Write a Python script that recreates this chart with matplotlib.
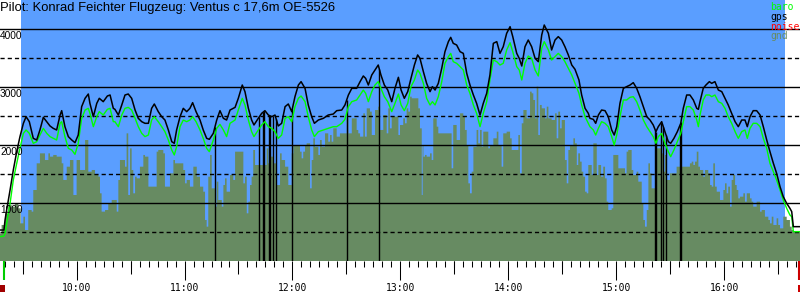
import numpy as np
import matplotlib.pyplot as plt
from matplotlib.patches import Rectangle

plt.rcParams['lines.scale_dashes'] = False

# time axis: minutes after 09:00
t_min = [
    17.4, 19.6, 20.2, 21.1, 23.0, 24.8, 26.7, 28.5, 30.4, 31.9,
    33.7, 35.9, 37.8, 39.6, 41.5, 43.4, 45.2, 47.0, 48.9, 50.8,
    51.7, 53.5, 55.4, 57.3, 59.1, 60.9, 62.8, 64.7, 66.5, 67.4,
    69.3, 71.2, 72.6, 74.8, 77.1, 78.6, 80.4, 81.3, 83.2, 85.1,
    86.9, 88.7, 90.6, 92.5, 94.3, 96.2, 98.0, 99.9, 101.7, 103.2,
    105.4, 107.3, 109.1, 111.0, 112.9, 114.3, 115.6, 117.5, 119.3, 121.2,
    123.0, 124.5, 126.4, 128.6, 130.4, 132.3, 133.8, 136.0, 137.9, 139.7,
    141.6, 143.4, 145.3, 148.1, 149.9, 152.1, 153.6, 155.5, 157.3, 158.6,
    161.0, 162.9, 164.7, 166.6, 168.5, 170.3, 172.1, 174.0, 175.9, 177.7,
    179.6, 181.4, 183.3, 184.8, 187.0, 188.8, 190.7, 192.2, 194.4, 197.2,
    199.9, 202.7, 204.6, 207.4, 209.2, 211.1, 213.0, 215.7, 217.6, 219.4,
    220.7, 222.2, 224.1, 225.9, 227.7, 229.2, 231.1, 233.0, 235.2, 237.0,
    238.9, 240.4, 242.2, 244.1, 245.9, 247.8, 249.6, 250.9, 252.8, 254.6,
    256.5, 257.8, 259.3, 261.1, 263.0, 264.8, 266.7, 268.0, 269.4, 271.3,
    273.2, 275.0, 276.9, 278.7, 280.6, 282.4, 284.3, 286.1, 288.0, 289.8,
    291.7, 293.6, 295.4, 297.2, 299.1, 301.0, 302.5, 304.7, 306.1, 307.5,
    309.3, 311.1, 313.0, 314.9, 316.7, 318.6, 320.0, 322.3, 324.1, 326.0,
    327.8, 329.7, 331.5, 333.4, 335.3, 337.1, 339.3, 340.8, 342.7, 344.5,
    345.4, 347.3, 348.6, 350.1, 351.9, 353.8, 355.6, 357.5, 358.9, 360.3,
    362.1, 364.0, 365.8, 367.7, 369.5, 371.4, 373.2, 375.1, 377.0, 378.8,
    380.6, 382.1, 383.4, 385.3, 387.1, 389.0, 390.3, 392.1, 394.0, 395.9,
    397.3, 399.2, 401.0, 402.9, 404.8, 405.7, 406.6, 408.4, 409.9, 411.8,
    413.1, 414.9, 416.8, 418.7, 420.5, 422.3, 424.2, 426.1, 427.9, 429.8,
    431.6, 432.9, 434.4, 436.2, 438.1, 440.0, 441.8, 443.7, 445.5, 447.4,
    449.2, 451.1, 452.9, 454.8, 456.6, 457.6, 458.5, 462.2,
]
gps_alt = [
    534, 534, 707, 879, 1224, 1569, 1885, 2144, 2374, 2488,
    2402, 2115, 2086, 2259, 2477, 2402, 2328, 2287, 2259, 2517,
    2592, 2316, 2144, 2086, 2040, 2172, 2661, 2805, 2879, 2718,
    2488, 2718, 2805, 2747, 2845, 2862, 2632, 2615, 2517, 2690,
    2862, 2879, 2805, 2603, 2460, 2402, 2374, 2374, 2632, 2707,
    2575, 2488, 2431, 2259, 2057, 2029, 2259, 2488, 2632, 2575,
    2632, 2730, 2575, 2431, 2259, 2115, 2098, 2201, 2431, 2592,
    2460, 2431, 2603, 2649, 2805, 3034, 2920, 2632, 2431, 2345,
    2460, 2546, 2592, 2517, 2488, 2517, 2328, 2374, 2661, 2707,
    2575, 2833, 3034, 3092, 2977, 2690, 2488, 2374, 2431, 2460,
    2517, 2534, 2592, 2603, 2690, 2862, 2977, 2977, 3092, 3190,
    3149, 3034, 3207, 3293, 3379, 3207, 3034, 2948, 2747, 2977,
    3167, 2948, 2805, 2920, 3149, 3379, 3552, 3494, 3264, 3063,
    2920, 3006, 2948, 3063, 3322, 3609, 3782, 3856, 3753, 3724,
    3609, 3580, 3236, 3034, 2862, 2718, 2517, 2718, 2891, 3207,
    3753, 3782, 3580, 3695, 3925, 4040, 3868, 3580, 3494, 3362,
    3695, 3810, 3695, 3494, 3437, 3897, 4069, 3925, 3638, 3810,
    3868, 3810, 3695, 3552, 3379, 3305, 3121, 2862, 2632, 2546,
    2460, 2442, 2374, 2517, 2603, 2592, 2488, 2259, 2172, 2316,
    2718, 2977, 3006, 3034, 3075, 2977, 2833, 2661, 2488, 2431,
    2345, 2230, 2316, 2402, 2230, 2057, 2029, 2115, 2230, 2374,
    2632, 2862, 2862, 2776, 2632, 2615, 2747, 2977, 3034, 3092,
    3063, 3092, 2948, 2920, 2805, 2690, 2546, 2402, 2316, 2431,
    2431, 2316, 2488, 2592, 2592, 2517, 2316, 2086, 1885, 1684,
    1511, 1282, 1109, 994, 908, 851, 592, 592,
]
baro_alt = [
    420, 430, 477, 649, 994, 1397, 1684, 1942, 2201, 2259,
    2201, 2029, 2057, 2172, 2287, 2201, 2144, 2115, 2086, 2374,
    2402, 2144, 1942, 1914, 1839, 2029, 2460, 2603, 2632, 2546,
    2316, 2488, 2575, 2517, 2615, 2632, 2402, 2402, 2316, 2517,
    2632, 2649, 2603, 2460, 2316, 2201, 2144, 2172, 2431, 2488,
    2402, 2316, 2230, 2086, 1914, 1828, 1971, 2316, 2431, 2402,
    2431, 2488, 2402, 2259, 2115, 1942, 1885, 2086, 2287, 2356,
    2259, 2144, 2374, 2431, 2603, 2805, 2690, 2431, 2230, 2144,
    2259, 2345, 2402, 2316, 2287, 2230, 2115, 2172, 2460, 2488,
    2402, 2661, 2805, 2845, 2747, 2488, 2259, 2144, 2230, 2259,
    2287, 2316, 2316, 2374, 2442, 2661, 2747, 2776, 2862, 2948,
    2891, 2747, 2920, 3034, 3092, 2977, 2833, 2747, 2575, 2718,
    2879, 2690, 2592, 2718, 3006, 3121, 3293, 3236, 3063, 2805,
    2690, 2747, 2690, 2833, 3092, 3408, 3523, 3580, 3437, 3408,
    3351, 3293, 3034, 2891, 2690, 2546, 2316, 2546, 2747, 3120,
    3465, 3437, 3379, 3408, 3638, 3764, 3609, 3351, 3293, 3121,
    3408, 3534, 3494, 3293, 3190, 3667, 3782, 3638, 3465, 3523,
    3580, 3523, 3437, 3322, 3207, 3063, 2891, 2690, 2488, 2374,
    2316, 2259, 2172, 2287, 2402, 2374, 2316, 2144, 2000, 2172,
    2488, 2776, 2776, 2822, 2833, 2747, 2603, 2431, 2316, 2230,
    2144, 2029, 2144, 2201, 2029, 1885, 1799, 1914, 2057, 2201,
    2402, 2661, 2661, 2603, 2431, 2316, 2517, 2776, 2862, 2862,
    2833, 2862, 2747, 2718, 2632, 2488, 2374, 2230, 2115, 2230,
    2259, 2115, 2287, 2374, 2374, 2316, 2115, 1942, 1684, 1540,
    1397, 1224, 1052, 908, 793, 764, 506, 506,
]

# ground elevation under the track, step values starting at gnd_t
gnd_t = [
    17.4, 18.3, 20.2, 22.0, 23.9, 25.7, 27.6, 28.9, 30.4, 31.3,
    33.1, 35.0, 35.9, 37.8, 39.6, 42.4, 44.3, 45.2, 47.0, 48.9,
    51.7, 52.6, 54.5, 56.3, 58.2, 60.0, 61.9, 64.7, 66.5, 68.4,
    70.2, 72.1, 73.0, 73.9, 75.8, 77.6, 79.5, 82.3, 83.2, 84.1,
    86.9, 87.8, 88.7, 89.7, 90.6, 91.5, 92.5, 93.4, 95.2, 97.1,
    98.0, 99.9, 104.5, 105.4, 108.2, 109.1, 111.9, 113.8, 114.7, 119.3,
    120.3, 121.2, 123.0, 124.9, 126.8, 128.6, 130.4, 131.4, 132.3, 133.2,
    134.2, 135.1, 136.9, 137.9, 138.8, 140.7, 141.6, 142.5, 143.4, 145.3,
    147.1, 148.1, 152.7, 153.6, 154.6, 155.5, 156.4, 157.3, 158.2, 159.2,
    165.7, 166.6, 167.5, 169.4, 171.2, 173.1, 174.0, 175.9, 177.7, 179.6,
    180.5, 184.2, 185.1, 186.0, 187.0, 187.9, 189.8, 190.7, 191.6, 192.5,
    194.4, 195.3, 196.3, 198.1, 199.9, 200.9, 201.8, 202.7, 204.6, 206.4,
    210.2, 211.1, 213.0, 215.7, 216.6, 217.6, 219.4, 220.3, 221.3, 223.1,
    224.1, 225.9, 227.7, 228.7, 230.5, 232.4, 233.3, 234.2, 235.2, 238.9,
    239.8, 241.6, 242.6, 243.5, 244.4, 245.4, 246.3, 250.0, 250.9, 251.9,
    252.4, 252.8, 253.7, 254.6, 256.5, 257.4, 258.3, 260.2, 261.1, 268.5,
    269.4, 271.3, 273.2, 275.0, 275.9, 276.9, 277.8, 278.7, 279.7, 280.6,
    282.4, 283.3, 284.3, 285.2, 286.1, 288.9, 289.8, 291.7, 293.6, 294.5,
    296.3, 297.2, 299.1, 301.0, 301.9, 305.6, 306.5, 307.5, 308.4, 310.2,
    312.1, 313.0, 313.9, 314.9, 315.8, 316.7, 317.6, 318.6, 320.4, 321.4,
    322.3, 324.1, 326.0, 326.9, 327.8, 328.8, 329.7, 331.5, 332.5, 333.4,
    334.3, 336.2, 337.1, 338.1, 338.9, 339.9, 340.8, 341.7, 342.7, 343.6,
    344.5, 346.4, 347.3, 349.2, 350.1, 351.6, 352.8, 353.8, 354.7, 355.6,
    357.5, 358.4, 361.2, 364.9, 365.8, 366.7, 368.6, 369.5, 371.4, 372.3,
    374.2, 375.1, 376.0, 377.0, 377.9, 378.8, 379.7, 381.6, 382.5, 385.3,
    386.2, 387.1, 388.1, 389.9, 393.6, 401.0, 402.0, 402.9, 403.8, 404.8,
    405.7, 406.6, 408.4, 409.4, 411.2, 412.2, 413.1, 414.0, 414.9, 415.9,
    417.7, 419.6, 420.5, 421.4, 422.3, 423.3, 424.2, 425.1, 426.1, 427.0,
    427.9, 428.8, 430.7, 431.6, 432.6, 434.4, 435.3, 436.2, 438.1, 440.0,
    440.9, 442.7, 444.6, 445.5, 446.5, 447.4, 449.2, 450.1, 451.1, 452.9,
    454.8, 456.6, 457.6, 458.5, 462.2,
]
gnd_alt = [
    477, 621, 822, 966, 937, 994, 908, 649, 764, 534,
    879, 851, 1224, 1684, 1856, 1741, 1856, 1799, 1828, 1799,
    1684, 1397, 1626, 1741, 1138, 1741, 1569, 2086, 1540, 1569,
    1483, 1454, 1167, 851, 879, 994, 1052, 851, 1397, 1741,
    1626, 2201, 1138, 1942, 1569, 1167, 1454, 1425, 1626, 1828,
    1799, 1282, 1885, 1914, 1856, 1282, 1511, 1741, 1684, 1569,
    1339, 1397, 1282, 1626, 1454, 1282, 1195, 707, 592, 1454,
    1828, 1253, 937, 1368, 1052, 937, 1310, 1425, 1195, 1483,
    1397, 1885, 1339, 1454, 822, 1023, 1310, 1454, 1914, 1655,
    1942, 1684, 1799, 1684, 1310, 1856, 1741, 1626, 1310, 1856,
    2000, 1885, 1770, 1885, 2000, 2029, 1253, 1741, 2115, 1971,
    1828, 2086, 1971, 2201, 2057, 2172, 2057, 2287, 2144, 2201,
    2460, 2201, 2460, 2259, 2201, 2144, 2546, 2144, 2632, 2575,
    2172, 2603, 2661, 2259, 2517, 2201, 2632, 2287, 2488, 2172,
    2345, 2460, 2374, 2632, 2575, 2833, 2805, 2632, 2287, 1138,
    2000, 1799, 1828, 1799, 1856, 1741, 2460, 2316, 2201, 1598,
    2345, 2086, 2546, 2488, 2259, 2000, 1339, 1167, 1540, 1971,
    2259, 2029, 2259, 1971, 2230, 1942, 2000, 2115, 2230, 2000,
    1626, 2201, 2230, 2115, 1914, 2172, 1511, 2374, 2603, 2460,
    2920, 2891, 2776, 2460, 3006, 2172, 2690, 2632, 2460, 2661,
    2460, 2431, 2546, 2115, 2575, 2287, 2431, 1741, 1339, 1914,
    2000, 2115, 2029, 1655, 1856, 1713, 1540, 1454, 1195, 1167,
    1655, 1483, 2029, 1483, 1655, 1454, 1626, 1425, 1023, 879,
    908, 1828, 1598, 1511, 1885, 1914, 1569, 1483, 1540, 1368,
    994, 707, 592, 879, 1684, 1511, 1253, 1626, 1942, 1856,
    1540, 1828, 1397, 1511, 1626, 1684, 1713, 1655, 1713, 1885,
    1626, 1569, 1454, 1569, 1511, 1310, 1282, 1684, 1282, 1195,
    1052, 1224, 1339, 1167, 1282, 937, 1397, 1483, 1310, 1224,
    1080, 1109, 1167, 1023, 1167, 1080, 1023, 937, 1023, 851,
    879, 764, 707, 649, 764, 621, 736, 621, 563, 764,
    707, 592, 534, 506, 506,
]

# gps dropouts (drawn as vertical strokes)
dropout_t = [136.9, 161.6, 163.8, 164.4, 167.1, 167.7, 169.2, 171.0, 179.9,
             210.1, 228.3, 381.7, 382.1, 384.7, 386.2, 387.7, 395.6, 396.0]

flight_window = (29.1, 453.9)
t_range = (17.4, 462.2)
alt_top = 4500
solid_levels = [1000, 2000, 3000, 4000]
dashed_levels = [500, 1500, 2500, 3500]
hours = [10, 11, 12, 13, 14, 15, 16]
start_mark_t = 19.9
end_mark_t = 461.6
title = "Pilot: Konrad Feichter Flugzeug: Ventus c 17,6m OE-5526"

BLUE = "#5a9eff"
GND = "#678b62"
BARO = "#00ff00"
legend_items = [("baro", BARO), ("gps", "black"), ("noise", "red"), ("gnd", GND)]

fig = plt.figure(figsize=(8, 3), dpi=100)
ax = fig.add_axes([0, 39 / 300, 1, 261 / 300])
ax.set_xlim(*t_range)
ax.set_ylim(0, alt_top)
for s in ax.spines.values():
    s.set_visible(False)

ax.axvspan(*flight_window, color=BLUE, lw=0, zorder=0)
ax.fill_between(gnd_t, gnd_alt, step="post", color=GND, lw=0, zorder=1)
for v in solid_levels:
    ax.axhline(v, color="k", lw=1.0, zorder=2)
for v in dashed_levels:
    ax.axhline(v, color="k", lw=1.0, dashes=(3, 2.2), zorder=2)

ax.vlines(dropout_t, 0, np.interp(dropout_t, t_min, gps_alt), color="k", lw=1.0, zorder=3)
ax.plot(t_min, baro_alt, color=BARO, lw=1.0, zorder=4)
ax.plot(t_min, gps_alt, color="k", lw=1.1, zorder=5)

for v in solid_levels:
    ax.annotate(str(v), xy=(t_range[0], v), xytext=(0, -1.5), textcoords="offset points",
                ha="left", va="top", fontsize=7.3, family="Liberation Sans", zorder=6)

# time axis
ax.set_yticks([])
ax.set_xticks([60 * (h - 9) for h in hours], [f"{h}:00" for h in hours])
ax.set_xticks(np.arange(20, t_range[1], 5), minor=True)
ax.tick_params(which="major", length=13.7, width=0.75, direction="out", pad=2, labelsize=7)
ax.tick_params(which="minor", length=4.3, width=0.75, direction="out")
for lab in ax.get_xticklabels():
    lab.set_family("DejaVu Sans Mono")
trans = ax.get_xaxis_transform()
half_hours = np.arange(30, t_range[1], 60)
ax.vlines(half_hours, -13 / 261, 0, transform=trans, color="k", lw=0.75, clip_on=False)

ax.vlines(start_mark_t, -19 / 261, 0, transform=trans, color="#00cc00", lw=1.5, clip_on=False)
ax.vlines(end_mark_t, -19 / 261, 0, transform=trans, color="#cc0000", lw=1.5, clip_on=False)
ax.add_patch(Rectangle((t_range[0], -31 / 261), 2.8, 7 / 261, transform=trans,
                       color="#a00000", lw=0, clip_on=False))
ax.add_patch(Rectangle((end_mark_t - 0.4, -31 / 261), 1.2, 7 / 261, transform=trans,
                       color="#cc0000", lw=0, clip_on=False))

fig.text(0, 1 - 11 / 300, title, fontsize=9.4, family="Liberation Sans", va="baseline")
for i, (name, col) in enumerate(legend_items):
    fig.text(770 / 800, 1 - (10 + 9.8 * i) / 300, name, color=col, fontsize=7,
             family="DejaVu Sans Mono", va="baseline")

fig.savefig("out.png", dpi=100)
